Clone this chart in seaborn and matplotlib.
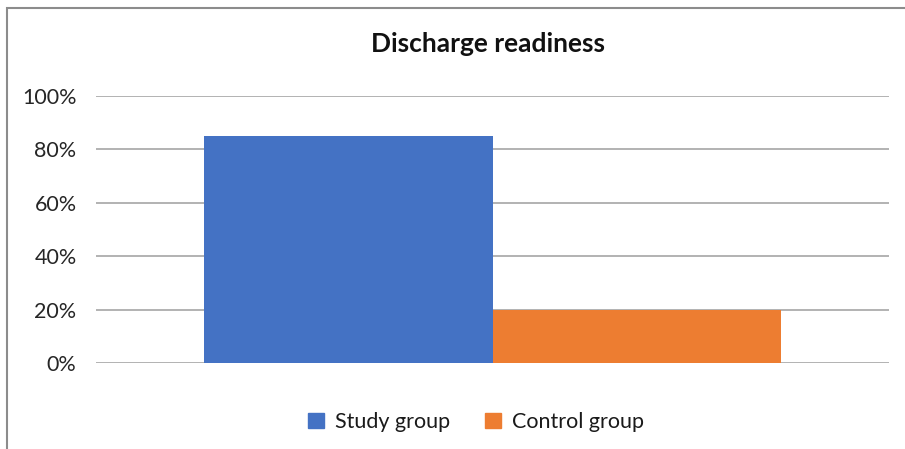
import pandas as pd
import numpy as np
import matplotlib
matplotlib.use("Agg")
import matplotlib.pyplot as plt
import seaborn as sns
from matplotlib.patches import Rectangle
from matplotlib.ticker import PercentFormatter

groups = ["Study group", "Control group"]
readiness = [85, 20]
metric = ["Discharge readiness", "Discharge readiness"]
colors = ["#4472C4", "#ED7D31"]

df = pd.DataFrame({"metric": metric, "group": groups, "value": readiness})

sns.set_style("white")
plt.rcParams["font.family"] = ["Lato", "DejaVu Sans"]

fig = plt.figure(figsize=(9.05, 4.49), dpi=100)
ax = fig.add_axes([96 / 905, 1 - 363 / 449, 793 / 905, 267 / 449])

sns.barplot(data=df, x="metric", y="value", hue="group", palette=colors,
            width=0.8, saturation=1, ax=ax, zorder=3, linewidth=0)

ax.set_xlim(-0.55, 0.55)
ax.set_ylim(0, 100)
ax.set_yticks(np.arange(0, 101, 20))
ax.yaxis.set_major_formatter(PercentFormatter(decimals=0))
ax.grid(axis="y", color="#A6A6A6", linewidth=1.2, zorder=0)
ax.set_xticks([])
ax.set_xlabel("")
ax.set_ylabel("")
ax.tick_params(axis="y", length=0, pad=14, labelsize=15.5, labelcolor="#262626")
for s in ax.spines.values():
    s.set_visible(False)

fig.text(488 / 905, 1 - 44 / 449, "Discharge readiness", ha="center", va="center",
         fontsize=19, fontweight="bold", color="#111111")

ax.legend_.remove()
handles = [plt.Rectangle((0, 0), 1, 1, color=c) for c in colors]
fig.legend(handles, groups, loc="center", bbox_to_anchor=(476 / 905, 1 - 422 / 449),
           ncol=2, frameon=False, fontsize=15.5, handlelength=0.75, handleheight=0.75,
           columnspacing=1.6, handletextpad=0.5, labelcolor="#1a1a1a")

fig.add_artist(Rectangle((7 / 905, -0.1), 1.2, 1 - 8 / 449 + 0.1, transform=fig.transFigure,
                         fill=False, edgecolor="#8C8C8C", linewidth=1.5))

fig.savefig("out.png", dpi=100)
